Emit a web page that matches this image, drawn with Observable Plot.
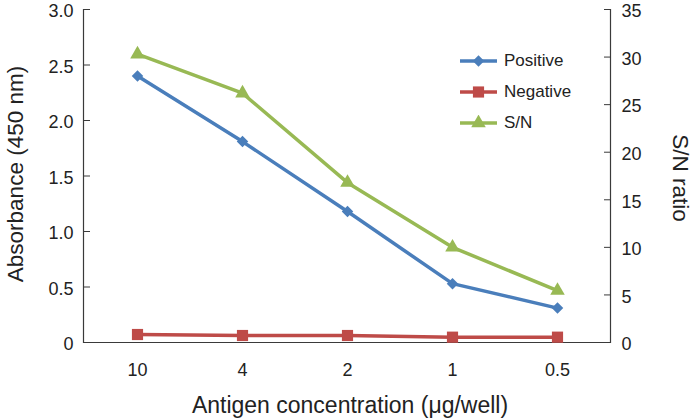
<!DOCTYPE html>
<html>
<head>
<meta charset="utf-8">
<script src="https://cdn.jsdelivr.net/npm/d3@7"></script>
<script src="https://cdn.jsdelivr.net/npm/@observablehq/plot@0.6"></script>
<style>
  html, body { margin: 0; padding: 0; background: #fff; }
  #wrap { position: relative; width: 695px; height: 420px; font-family: "Liberation Sans", Arial, sans-serif; }
  #legend { position: absolute; left: 460px; top: 45px; font-size: 17px; color: #222; }
  .row { display: flex; align-items: center; height: 31px; }
  .row svg { margin-right: 6px; }
</style>
</head>
<body>
<div id="wrap"></div>
<script>
const concentrations = ["10", "4", "2", "1", "0.5"];
const positive = [2.40, 1.81, 1.18, 0.53, 0.31];
const negative = [0.072, 0.063, 0.063, 0.048, 0.048];
const snRatio = [30.3, 26.2, 16.8, 10.0, 5.45];
const leftTicks = [0, 0.5, 1.0, 1.5, 2.0, 2.5, 3.0];
const rightTicks = [0, 5, 10, 15, 20, 25, 30, 35];
const seriesNames = ["Positive", "Negative", "S/N"];
const seriesColors = ["#4a7ebb", "#be4b48", "#98b954"];
const seriesSymbols = ["diamond2", "square", "triangle"];
const seriesR = [5.2, 6.3, 5.4];

const yMax = 3, snMax = 35;
const toLeft = v => v * yMax / snMax;

const rows = [];
concentrations.forEach((c, i) => {
  rows.push({series: "Positive", c, y: positive[i]});
  rows.push({series: "Negative", c, y: negative[i]});
  rows.push({series: "S/N", c, y: toLeft(snRatio[i])});
});

const axisColor = "#3a3a3a";
const fmtLeft = d => d === 0 ? "0" : d.toFixed(1);

const marks = [];
// frame lines
marks.push(Plot.ruleY([0], {stroke: axisColor, strokeWidth: 1.2}));
marks.push(Plot.frame({anchor: "left", stroke: axisColor, strokeWidth: 1.2}));
marks.push(Plot.frame({anchor: "right", stroke: axisColor, strokeWidth: 1.2}));
// left axis: inward ticks + labels
marks.push(Plot.axisY(leftTicks, {anchor: "left", tickSize: 7, dx: 7, text: null, stroke: axisColor, label: null}));
marks.push(Plot.axisY(leftTicks, {anchor: "left", tickSize: 0, tickPadding: 10, dy: 2, tickFormat: fmtLeft, fontSize: 18, fill: "#222", label: null}));
// right axis
marks.push(Plot.axisY(rightTicks.map(toLeft), {anchor: "right", tickSize: 7, dx: -7, text: null, stroke: axisColor, label: null}));
marks.push(Plot.axisY(rightTicks.map(toLeft), {anchor: "right", tickSize: 0, tickPadding: 11, dy: 2, tickFormat: d => String(Math.round(d * snMax / yMax)), fontSize: 18, fill: "#222", label: null}));
// x axis
marks.push(Plot.axisX({anchor: "bottom", tickSize: 0, tickPadding: 21, fontSize: 18, fill: "#222", label: null}));
// axis titles
marks.push(Plot.text(["Absorbance (450 nm)"], {frameAnchor: "left", textAnchor: "middle", lineAnchor: "middle", rotate: -90, dx: -68, dy: -2, text: d => d, fontSize: 22.5, fill: "#222"}));
marks.push(Plot.text(["S/N ratio"], {frameAnchor: "right", textAnchor: "middle", lineAnchor: "middle", rotate: 90, dx: 70, dy: 2, text: d => d, fontSize: 22.5, fill: "#222"}));
marks.push(Plot.text(["Antigen concentration (\u03bcg/well)"], {frameAnchor: "bottom", textAnchor: "middle", lineAnchor: "middle", dx: 3, dy: 63, text: d => d, fontSize: 23, fill: "#222"}));
// series
seriesNames.forEach((s, k) => {
  const d = rows.filter(r => r.series === s);
  marks.push(Plot.line(d, {x: "c", y: "y", stroke: seriesColors[k], strokeWidth: 3.5}));
  marks.push(Plot.dot(d, {x: "c", y: "y", fill: seriesColors[k], stroke: "none", symbol: seriesSymbols[k], r: seriesR[k]}));
});

const chart = Plot.plot({
  width: 695,
  height: 420,
  marginLeft: 83,
  marginRight: 85,
  marginTop: 9,
  marginBottom: 78,
  style: {fontFamily: "Liberation Sans, Arial, sans-serif", background: "white"},
  x: {type: "point", domain: concentrations, padding: 0.5, axis: null},
  y: {domain: [0, yMax], axis: null},
  marks
});

const wrap = document.getElementById("wrap");
wrap.appendChild(chart);

// legend
const legend = document.createElement("div");
legend.id = "legend";
seriesNames.forEach((s, k) => {
  const row = document.createElement("div");
  row.className = "row";
  const svg = d3.create("svg").attr("width", 38).attr("height", 16);
  svg.append("line").attr("x1", 0).attr("x2", 37).attr("y1", 8).attr("y2", 8)
    .attr("stroke", seriesColors[k]).attr("stroke-width", 3.5);
  const symType = {diamond2: d3.symbolDiamond2, square: d3.symbolSquare, triangle: d3.symbolTriangle}[seriesSymbols[k]];
  svg.append("path").attr("transform", "translate(18.5,8)")
    .attr("d", d3.symbol(symType, Math.PI * seriesR[k] * seriesR[k])())
    .attr("fill", seriesColors[k]);
  row.appendChild(svg.node());
  const t = document.createElement("span");
  t.textContent = s;
  row.appendChild(t);
  legend.appendChild(row);
});
wrap.appendChild(legend);
</script>
</body>
</html>
